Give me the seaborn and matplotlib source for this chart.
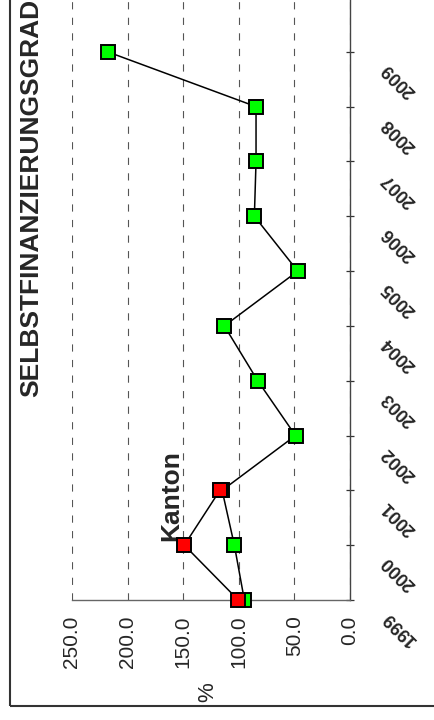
import numpy as np
import pandas as pd
import matplotlib
matplotlib.use("Agg")
import matplotlib.pyplot as plt
import matplotlib.transforms as mtransforms
from matplotlib.patches import Rectangle
import seaborn as sns

# data
years = [1999, 2000, 2001, 2002, 2003, 2004, 2005, 2006, 2007, 2008, 2009]
gemeinde = [95, 104, 115, 49, 83, 113, 47, 86, 84.5, 84.5, 218]
kanton_years = [1999, 2000, 2001]
kanton = [100.5, 149, 117]
value_ticks = [0, 50, 100, 150, 200, 250]

sns.set_style("white")
plt.rcParams["font.family"] = ["Liberation Sans", "DejaVu Sans"]

fig = plt.figure(figsize=(4.35, 7.2), dpi=100)
ax = fig.add_axes([72 / 435, 120 / 720, 278 / 435, 603 / 720])

# green series first, red (Kanton) drawn on top
sns.lineplot(x=gemeinde, y=years, sort=False, estimator=None, orient="y", ax=ax,
             color="black", linewidth=1.1, marker="s", markersize=9.5,
             markerfacecolor="#00ff00", markeredgecolor="black",
             markeredgewidth=1.4, clip_on=False, zorder=3)
sns.lineplot(x=kanton, y=kanton_years, sort=False, estimator=None, orient="y", ax=ax,
             color="black", linewidth=1.1, marker="s", markersize=9.5,
             markerfacecolor="#ff0000", markeredgecolor="black",
             markeredgewidth=1.4, clip_on=False, zorder=4)

ax.set_xlim(250, 0)
ax.set_ylim(1999, 2010)

ax.set_xticks(value_ticks)
ax.set_xticklabels([f"{v:.1f}" for v in value_ticks], rotation=90, fontsize=15)
ax.set_yticks(years)
ax.set_yticklabels([str(y) for y in years], rotation=135, fontsize=13,
                   fontweight="bold", ha="center", va="center")

ax.yaxis.tick_right()
ax.tick_params(axis="x", direction="inout", length=6, width=0.9, color="#555555", pad=8)
ax.tick_params(axis="y", direction="inout", length=6, width=0.9, color="#333333", pad=0)

# shift the year labels down between the ticks
shift = mtransforms.ScaledTranslation(45 / 100, -28 / 100, fig.dpi_scale_trans)
for lab in ax.get_yticklabels():
    lab.set_transform(lab.get_transform() + shift)

ax.grid(axis="x", color="#555555", linewidth=0.8, linestyle=(0, (6.5, 7.5)))
ax.grid(axis="y", visible=False)

for side in ["top", "left"]:
    ax.spines[side].set_visible(False)
ax.spines["right"].set_color("#444444")
ax.spines["right"].set_linewidth(1.0)
ax.spines["bottom"].set_color("#666666")
ax.spines["bottom"].set_linewidth(1.0)

ax.set_xlabel("%", rotation=90, fontsize=16)
ax.xaxis.set_label_coords(0.49, -0.136)
ax.set_ylabel("")

ax.text(150, 2000.07, "Kanton", rotation=90, ha="right", va="bottom",
        fontsize=19, fontweight="bold")

fig.text(31 / 435, 1.001, "SELBSTFINANZIERUNGSGRAD", rotation=90,
         ha="center", va="top", fontsize=19, fontweight="bold")

fig.add_artist(Rectangle((10 / 435, 14 / 720), 1.2, 1.2, transform=fig.transFigure,
                         fill=False, edgecolor="#333333", linewidth=1.5))

fig.savefig("out.png", dpi=100)
